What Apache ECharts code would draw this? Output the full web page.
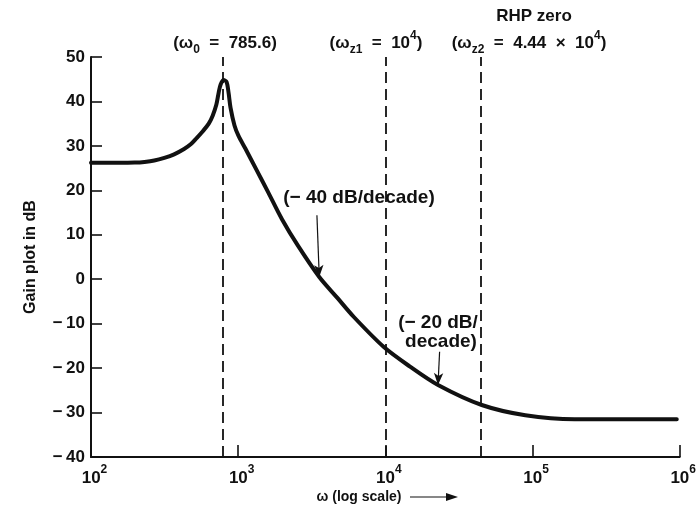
<!DOCTYPE html>
<html><head><meta charset="utf-8">
<script src="https://cdn.jsdelivr.net/npm/echarts@6/dist/echarts.min.js"></script>
<style>html,body{margin:0;padding:0;background:#fff}#c{width:699px;height:521px}</style>
</head><body><div id="c"></div>
<script>
// ---- data ----
const omega = [100, 157, 198, 231, 269, 315, 367, 429, 478, 524, 575, 631, 671, 711, 737, 760, 796, 834, 860, 887, 944, 1004, 1119, 1327, 1597, 1984, 2541, 3556, 4721, 6112, 9726, 14620, 22790, 45190, 89330, 193600, 420000, 955000];
const gainDb = [26.2, 26.2, 26.25, 26.4, 26.7, 27.3, 28.1, 29.3, 30.4, 31.8, 33.3, 35.0, 36.8, 39.3, 42.0, 43.8, 44.8, 44.4, 42.0, 38.6, 34.6, 32.3, 29.4, 24.7, 19.6, 13.5, 7.6, 0.5, -4.2, -8.5, -15.2, -19.6, -23.8, -28.3, -30.6, -31.5, -31.5, -31.5];
const yMin = -40, yMax = 50, yStep = 10;
const xMin = 100, xMax = 1000000;
const cornerFreqs = [785.6, 10000, 44400];
const arrow40 = [[3428, 14.4], [3556, 0.5]];
const arrow20 = [[23364, -16.3], [22790, -23.8]];

const FONT = '"Liberation Sans", Arial, Helvetica, sans-serif';
const INK = '#111';

const chart = echarts.init(document.getElementById('c'), null, {renderer: 'canvas'});

const topRich = {
  m: {fontSize: 17, fontWeight: 'bold', lineHeight: 26, fontFamily: FONT, color: INK},
  sub: {fontSize: 12, fontWeight: 'bold', fontFamily: FONT, color: INK, verticalAlign: 'bottom'},
  sup: {fontSize: 12, fontWeight: 'bold', fontFamily: FONT, color: INK, verticalAlign: 'top'}
};

function textEl(text, x, y, size) {
  return {
    type: 'text', x: x, y: y, silent: true,
    style: {text: text, rich: topRich, font: 'bold ' + (size || 17) + 'px ' + FONT, fill: INK, textAlign: 'center', textVerticalAlign: 'middle'}
  };
}

const option = {
  backgroundColor: '#fff',
  animation: false,
  grid: {left: 91, right: 13, top: 57, bottom: 64},
  xAxis: {
    type: 'log', logBase: 10, min: xMin, max: xMax,
    axisLine: {show: true, onZero: false, lineStyle: {color: INK, width: 2}},
    axisTick: {show: true, inside: true, length: 12, lineStyle: {color: INK, width: 1.6}},
    minorTick: {show: false},
    splitLine: {show: false},
    axisLabel: {
      margin: 7,
      formatter: function (v) {
        const e = Math.round(Math.log10(v));
        return '{p| }{b|10}{s|' + e + '}';
      },
      rich: {
        p: {width: 7, fontSize: 12},
        b: {fontSize: 17, fontWeight: 'bold', lineHeight: 28, fontFamily: FONT, color: INK},
        s: {fontSize: 12, fontWeight: 'bold', fontFamily: FONT, color: INK, verticalAlign: 'top'}
      }
    }
  },
  yAxis: {
    type: 'value', min: yMin, max: yMax, interval: yStep,
    name: 'Gain plot in dB', nameLocation: 'middle', nameGap: 52,
    nameTextStyle: {fontSize: 16, fontWeight: 'bold', fontFamily: FONT, color: INK},
    axisLine: {show: true, onZero: false, lineStyle: {color: INK, width: 2}},
    axisTick: {show: true, inside: true, length: 11, lineStyle: {color: INK, width: 1.6}},
    splitLine: {show: false},
    axisLabel: {
      margin: 6, fontSize: 17, fontWeight: 'bold', fontFamily: FONT, color: INK,
      formatter: function (v) { return v < 0 ? '\u2212\u2009' + Math.abs(v) : String(v); }
    }
  },
  series: [
    {
      type: 'line', data: [], silent: true,
      markLine: {
        silent: true, symbol: ['none', 'none'], label: {show: false},
        lineStyle: {color: INK, type: [11, 6], width: 1.8},
        data: cornerFreqs.map(function (f) { return {xAxis: f}; })
      }
    },
    {
      type: 'line', data: [], silent: true,
      markLine: {
        silent: true, symbol: ['none', 'arrow'], symbolSize: [7, 12], label: {show: false},
        lineStyle: {color: INK, type: 'solid', width: 1.2},
        data: [
          [{coord: arrow40[0]}, {coord: arrow40[1]}],
          [{coord: arrow20[0]}, {coord: arrow20[1]}]
        ]
      }
    },
    {
      type: 'line', silent: true,
      data: omega.map(function (w, i) { return [w, gainDb[i]]; }),
      showSymbol: false, smooth: 0.3,
      lineStyle: {color: INK, width: 4, join: 'round', cap: 'round'}
    }
  ],
  graphic: [
    textEl('RHP zero', 534, 16),
    textEl('{m|(ω}{sub|0}{m|  =  785.6)}', 225, 43),
    textEl('{m|(ω}{sub|z1}{m|  =  10}{sup|4}{m|)}', 376, 43),
    textEl('{m|(ω}{sub|z2}{m|  =  4.44  ×  10}{sup|4}{m|)}', 529, 43),
    textEl('(\u2212 40 dB/decade)', 359, 198, 19),
    textEl('(\u2212 20 dB/', 438, 323, 19),
    textEl('decade)', 441, 342, 19),
    {type: 'text', x: 359, y: 497, silent: true,
     style: {text: 'ω (log scale)', font: 'bold 14px ' + FONT, fill: INK, textAlign: 'center', textVerticalAlign: 'middle'}},
    {type: 'line', silent: true, shape: {x1: 410, y1: 497, x2: 450, y2: 497}, style: {stroke: INK, lineWidth: 1.2}},
    {type: 'polygon', silent: true, shape: {points: [[458, 497], [446, 493], [446, 501]]}, style: {fill: INK}}
  ]
};
chart.setOption(option);
</script>
</body></html>
